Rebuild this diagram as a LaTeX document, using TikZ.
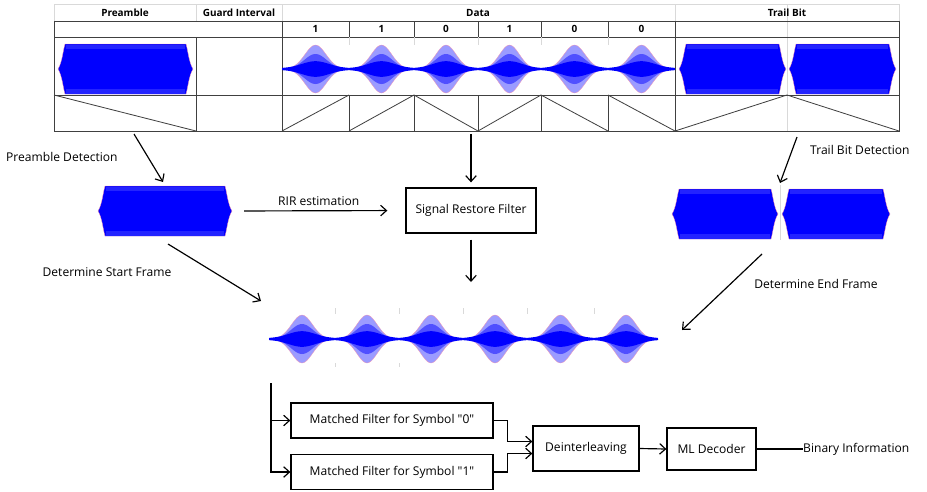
\documentclass[tikz,border=0pt]{standalone}
\usepackage{fontspec}
\setmainfont{Open Sans}
\newfontfamily\quotefont{Open Sans}[Ligatures=TeXOff]
\usetikzlibrary{positioning}
\usetikzlibrary{calc}
\usetikzlibrary{arrows.meta}
\definecolor{wavedark}{RGB}{0,0,255}
\definecolor{wavemid}{RGB}{80,80,255}
\definecolor{wavelight}{RGB}{155,155,255}
\definecolor{waveband}{RGB}{35,35,255}
\definecolor{waveedge}{RGB}{255,150,170}
\definecolor{gridline}{gray}{.85}
\definecolor{tableline}{gray}{.25}
\newcommand{\px}{0.03cm}
\newcommand{\dq}{{\quotefont\symbol{34}}}
\newcommand{\hexwave}[3]{%
  \filldraw[wavedark, draw=waveedge, line width=0.25pt]
    (#1,#3) .. controls ({#1+4},{#3-6}) and ({#1+5},{#3-18}) .. ({#1+7},{#3-25})
    -- ({#2-7},{#3-25}) .. controls ({#2-5},{#3-18}) and ({#2-4},{#3-6}) .. (#2,#3)
    .. controls ({#2-4},{#3+6}) and ({#2-5},{#3+18}) .. ({#2-7},{#3+25})
    -- ({#1+7},{#3+25}) .. controls ({#1+5},{#3+18}) and ({#1+4},{#3+6}) .. cycle;
  \fill[waveband] ({#1+8},{#3-24.5}) rectangle ({#2-8},{#3-20});
  \fill[waveband] ({#1+8},{#3+24.5}) rectangle ({#2-8},{#3+20});
}
\newcommand{\burst}[3]{%
  \pgfmathsetmacro{\bc}{(#1+#2)/2}%
  \pgfmathsetmacro{\bw}{(#2-#1)/2}%
  \filldraw[wavelight, draw=waveedge, line width=0.2pt]
    plot[domain=-1:1, samples=41] ({\bc+\bw*\x},{#3-24*exp(-5*(\x)^2)})
    -- plot[domain=1:-1, samples=41] ({\bc+\bw*\x},{#3+24*exp(-5*(\x)^2)}) -- cycle;
  \fill[wavemid]
    plot[domain=-1:1, samples=41] ({\bc+\bw*\x},{#3-15*exp(-4.5*(\x)^2)})
    -- plot[domain=1:-1, samples=41] ({\bc+\bw*\x},{#3+15*exp(-4.5*(\x)^2)}) -- cycle;
  \fill[wavedark]
    plot[domain=-1:1, samples=41] ({\bc+\bw*\x},{#3-0.8-7*exp(-3*(\x)^2)})
    -- plot[domain=1:-1, samples=41] ({\bc+\bw*\x},{#3+0.8+7*exp(-3*(\x)^2)}) -- cycle;
}
\tikzset{
    common/.style={draw, rectangle, line width=1.1pt, inner sep=0pt, font=\fontsize{10.3}{12}\selectfont},
    srfbox/.style={common, minimum width=130*\px, minimum height=45*\px},
    filterbox/.style={common, minimum width=202*\px, minimum height=35*\px},
    deintbox/.style={common, minimum width=106*\px, minimum height=45*\px},
    decbox/.style={common, minimum width=89*\px, minimum height=42*\px},
    wavebox/.style={rectangle, inner sep=0pt},
    lbl/.style={inner sep=0pt, font=\fontsize{10.3}{12}\selectfont},
    head/.style={inner sep=0pt, font=\fontsize{8.5}{10}\selectfont\bfseries},
    grid/.style={draw=gridline, line width=0.6pt},
    cell/.style={draw=tableline, line width=0.7pt},
    flow/.style={-{Straight Barb[length=5pt, width=9pt]}, line width=1pt},
    wire/.style={line width=1pt},
}
\begin{document}
\begin{tikzpicture}[x=\px, y=-\px]
    \useasboundingbox (0,0) rectangle (927,491);

    % frame table
    \draw[grid] (54,21) -- (54,4) -- (899,4) -- (899,21);
    \foreach \c in {196,282,675} \draw[grid] (\c,4) -- (\c,21);
    \draw[grid] (787,4) -- (787,131);
    \draw[cell] (54,21) rectangle (899,131);
    \foreach \r in {37,95} \draw[cell] (54,\r) -- (899,\r);
    \draw[cell] (196,37) -- (196,131);
    \foreach \c in {282,675} \draw[cell] (\c,21) -- (\c,131);

    \node[head] (h-pre) at (125,13) {Preamble};
    \node[head] (h-guard) at (239,13) {Guard Interval};
    \node[head] (h-data) at (478,13) {Data};
    \node[head] (h-trail) at (787,13) {Trail Bit};

    \hexwave{58}{193}{69}
    \draw[cell] (54,95) -- (196,131);

    \foreach \xa/\xb/\b in {282/349/1, 349/414/1, 414/478/0, 478/541/1, 541/608/0, 608/675/0} {
        \node[head] (bit-\xa) at ({(\xa+\xb)/2},29) {\b};
        \burst{\xa}{\xb}{69}
        \ifnum\b=1
            \draw[cell] (\xa,131) -- (\xb,95);
        \else
            \draw[cell] (\xa,95) -- (\xb,131);
        \fi
    }
    \foreach \c in {349,414,478,541,608} {
        \draw[cell] (\c,21) -- (\c,37);
        \draw[grid] (\c,37) -- (\c,45);
        \draw[cell] (\c,95) -- (\c,131);
    }

    \hexwave{679}{786}{69}
    \hexwave{789}{896}{69}
    \draw[cell] (675,131) -- (787,95) -- (899,131);

    % detection
    \node[wavebox, minimum width=134*\px, minimum height=50*\px] (precopy) at (165,211) {};
    \hexwave{98}{232}{211}
    \node[wavebox, minimum width=218*\px, minimum height=50*\px] (trailcopy) at (781,214) {};
    \draw[grid] (780,185) -- (780,240);
    \hexwave{672}{778}{214}
    \hexwave{782}{890}{214}
    \node[wavebox, minimum width=389*\px, minimum height=48*\px] (datacopy) at (463.5,339) {};
    \foreach \xa/\xb in {269/335, 335/399, 399/463, 463/527, 527/594, 594/658} {
        \burst{\xa}{\xb}{339}
    }
    \foreach \c in {335,399,463,527,594} \draw[grid] (\c,308) -- (\c,314);
    \foreach \c in {335,399} \draw[grid] (\c,363) -- (\c,367);

    \node[srfbox] (srf) at (471,210.5) {Signal Restore Filter};

    \coordinate (predet-src) at (134,134);
    \coordinate (predet-tip) at (163,182);
    \coordinate (trail-src) at (797,137);
    \coordinate (trail-tip) at (780,183);
    \coordinate (start-src) at (168,244);
    \coordinate (start-tip) at (261,301);
    \coordinate (end-src) at (762,254);
    \coordinate (end-tip) at (682,330);
    \coordinate (table-out) at (471,134);
    \coordinate (srf-out) at (471,282);

    \node[lbl, anchor=west] (predet-lbl) at (6,157) {Preamble Detection};
    \node[lbl, anchor=west] (trail-lbl) at (810,150) {Trail Bit Detection};
    \node[lbl] (start-lbl) at (107,272) {Determine Start Frame};
    \node[lbl] (end-lbl) at (816,284) {Determine End Frame};

    \draw[flow] (predet-src) -- (predet-tip);
    \draw[flow] (trail-src) -- (trail-tip);
    \draw[flow] (start-src) -- (start-tip);
    \draw[flow] (end-src) -- (end-tip);
    \draw[flow, shorten >=0.15cm] (table-out) -- (srf.north);
    \draw[flow, shorten <=0.36cm, shorten >=0.54cm] (precopy.east) -- node[lbl, above=4pt] (rir-lbl) {RIR estimation} (srf.west);
    \draw[flow, shorten <=0.18cm] (srf.south) -- (srf-out);

    % decoding
    \node[filterbox] (mfzero) at (392,420.5) {Matched Filter for Symbol \dq0\dq};
    \node[filterbox] (mfone) at (392,472) {Matched Filter for Symbol \dq1\dq};
    \node[deintbox] (deint) at (586,448.5) {Deinterleaving};
    \node[decbox] (mldec) at (711.5,449) {ML Decoder};
    \node[lbl, anchor=west] (binfo) at (803,449) {Binary Information};
    \coordinate (split) at (271,383);

    \draw[flow] (split) |- (mfzero.west);
    \draw[flow] (split) |- (mfone.west);
    \draw[flow] (mfzero.east) -- ++(14,0) |- ($(deint.west)+(0,-7)$);
    \draw[flow] (mfone.east) -- ++(14,0) |- ($(deint.west)+(0,5)$);
    \draw[flow] (deint.east) -- (mldec.west);
    \draw[wire] (mldec.east) -- (binfo.west);
\end{tikzpicture}
\end{document}
